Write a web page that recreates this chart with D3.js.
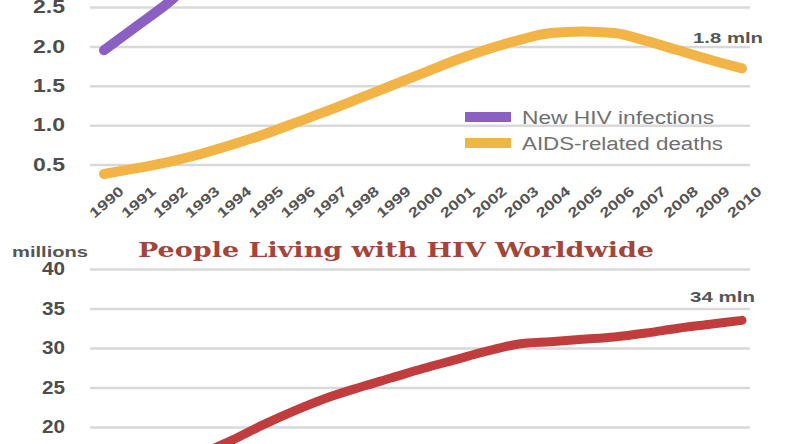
<!DOCTYPE html>
<html>
<head>
<meta charset="utf-8">
<script src="https://cdn.jsdelivr.net/npm/d3@7"></script>
<style>
  body { margin: 0; background: #fff; }
  svg { display: block; font-family: "Liberation Sans", Arial, sans-serif; }
</style>
</head>
<body>
<div id="chart"></div>
<script>
// data (millions)
var years = d3.range(1990, 2011);
var newInfections = [1.95, 2.25, 2.55, 2.9, 3.1, 3.2, 3.25, 3.25, 3.2, 3.15, 3.1, 3.0, 2.95, 2.9, 2.85, 2.8, 2.78, 2.75, 2.72, 2.68, 2.7];
var aidsDeaths = [0.38, 0.45, 0.53, 0.63, 0.75, 0.88, 1.03, 1.18, 1.34, 1.5, 1.66, 1.82, 1.96, 2.08, 2.17, 2.19, 2.17, 2.07, 1.95, 1.83, 1.72];
var plhiv = [10.5, 12.5, 14.6, 16.5, 18.3, 20.3, 22.1, 23.7, 25.0, 26.2, 27.4, 28.5, 29.6, 30.5, 30.8, 31.1, 31.4, 31.9, 32.5, 33.0, 33.5];
var topTicks = [0.5, 1.0, 1.5, 2.0, 2.5];
var bottomTicks = [20, 25, 30, 35, 40];
var legendLabels = ["New HIV infections", "AIDS-related deaths"];
var colors = ["#8c5fc2", "#f2b446", "#c13c3d"];

var W = 790, H = 444;
var svg = d3.select("#chart").append("svg")
    .attr("width", W)
    .attr("height", H);

var x = d3.scaleLinear().domain([1990, 2010]).range([104, 742]);
var yTop = d3.scaleLinear().domain([0.5, 2.5]).range([164.5, 7]);
var yBot = d3.scaleLinear().domain([20, 40]).range([427, 269]);

// stretch text horizontally to mimic the wide look of the source
function stretch(sel, w) {
  sel.attr("textLength", w).attr("lengthAdjust", "spacingAndGlyphs");
}

function grid(y, ticks, fmt) {
  var g = svg.append("g")
      .attr("transform", "translate(90,0)")
      .call(d3.axisLeft(y).tickValues(ticks).tickFormat(fmt)
        .tickSizeInner(-660).tickSizeOuter(0).tickPadding(25));
  g.select(".domain").remove();
  g.selectAll(".tick line").attr("stroke", "#d9d9d9").attr("stroke-width", 2.5);
  g.selectAll(".tick text")
      .attr("fill", "#4d4d4d")
      .attr("font-size", 18)
      .attr("font-weight", "bold");
  return g;
}

// ---- top chart
var gTop = grid(yTop, topTicks, d3.format(".1f"));
gTop.selectAll(".tick text").each(function(){ stretch(d3.select(this), 32); });

var line = function(y) {
  return d3.line()
    .x(function(d, i){ return x(years[i]); })
    .y(function(d){ return y(d); })
    .curve(d3.curveMonotoneX);
};

svg.append("path")
    .datum(newInfections)
    .attr("d", line(yTop))
    .attr("fill", "none")
    .attr("stroke", colors[0])
    .attr("stroke-width", 10)
    .attr("stroke-linecap", "round");

svg.append("path")
    .datum(aidsDeaths)
    .attr("d", line(yTop))
    .attr("fill", "none")
    .attr("stroke", colors[1])
    .attr("stroke-width", 10)
    .attr("stroke-linecap", "round");

var endLbl = svg.append("text")
    .attr("x", 693).attr("y", 43)
    .attr("fill", "#555")
    .attr("font-size", 15)
    .attr("font-weight", "bold")
    .text("1.8 mln");
stretch(endLbl, 70);

// legend
var leg = svg.append("g").attr("transform", "translate(465,0)");
legendLabels.forEach(function(l, i) {
  var yy = 117 + i * 26;
  leg.append("rect")
      .attr("x", 0).attr("y", yy - 5)
      .attr("width", 46).attr("height", 10)
      .attr("fill", colors[i]);
  var t = leg.append("text")
      .attr("x", 57).attr("y", yy + 6.5)
      .attr("fill", "#707070")
      .attr("font-size", 18)
      .text(l);
  stretch(t, i === 0 ? 192 : 201);
});

// year axis
var xa = svg.append("g")
    .attr("transform", "translate(0,190)")
    .call(d3.axisBottom(x).tickValues(years).tickFormat(d3.format("d")).tickSize(0));
xa.select(".domain").remove();
xa.selectAll(".tick text")
    .attr("y", 0)
    .attr("dy", "0.35em")
    .attr("text-anchor", "middle")
    .attr("transform", "translate(2,12) rotate(-41)")
    .attr("fill", "#555")
    .attr("font-size", 14)
    .attr("font-weight", "bold")
    .each(function(){ stretch(d3.select(this), 40); });

// ---- bottom chart
var title = svg.append("text")
    .attr("x", 138).attr("y", 257)
    .attr("fill", "#a4443a")
    .attr("font-family", "'DejaVu Serif', Georgia, serif")
    .attr("font-size", 20)
    .attr("font-weight", "bold")
    .text("People Living with HIV Worldwide");
stretch(title, 516);

var mil = svg.append("text")
    .attr("x", 12).attr("y", 257)
    .attr("fill", "#555")
    .attr("font-size", 14)
    .attr("font-weight", "bold")
    .text("millions");
stretch(mil, 76);

var gBot = grid(yBot, bottomTicks, d3.format("d"));
gBot.selectAll(".tick text").each(function(){ stretch(d3.select(this), 23); });

svg.append("path")
    .datum(plhiv)
    .attr("d", line(yBot))
    .attr("fill", "none")
    .attr("stroke", colors[2])
    .attr("stroke-width", 9)
    .attr("stroke-linecap", "round");

var endLbl2 = svg.append("text")
    .attr("x", 690).attr("y", 302)
    .attr("fill", "#555")
    .attr("font-size", 15)
    .attr("font-weight", "bold")
    .text("34 mln");
stretch(endLbl2, 65);
</script>
</body>
</html>
